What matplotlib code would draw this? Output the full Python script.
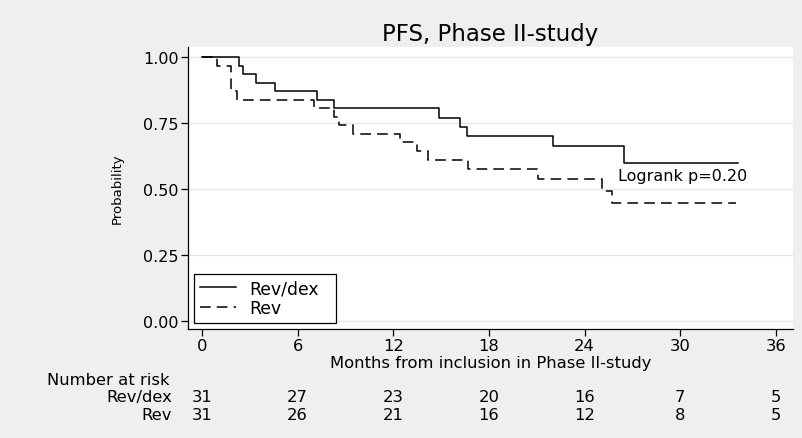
import matplotlib.pyplot as plt
import matplotlib.transforms as mtransforms

# Kaplan-Meier step data
revdex_t = [0, 2.3, 2.6, 3.4, 4.6, 7.2, 8.3, 14.9, 16.2, 16.6, 22.0, 26.5, 33.6]
revdex_s = [1.0, 0.968, 0.935, 0.903, 0.871, 0.839, 0.806, 0.769, 0.735, 0.700, 0.665, 0.598, 0.598]

rev_t = [0, 0.95, 1.8, 2.2, 7.0, 8.3, 8.6, 9.5, 12.4, 13.5, 14.2, 16.7, 21.1, 25.1, 25.7, 33.5]
rev_s = [1.0, 0.968, 0.871, 0.839, 0.806, 0.774, 0.742, 0.710, 0.677, 0.645, 0.609, 0.575,
         0.538, 0.494, 0.449, 0.449]

risk_times = [0, 6, 12, 18, 24, 30, 36]
risk_revdex = [31, 27, 23, 20, 16, 7, 5]
risk_rev = [31, 26, 21, 16, 12, 8, 5]

yticks = [0.0, 0.25, 0.5, 0.75, 1.0]
bg = '#efefef'
fs = 11.8

plt.rcParams['font.family'] = 'DejaVu Sans'

fig = plt.figure(figsize=(8.03, 4.39), dpi=100, facecolor=bg)
ax = fig.add_axes([188 / 803, 1 - 330 / 439, 605 / 803, 282 / 439])
ax.set_facecolor('white')

for y in yticks:
    ax.axhline(y, color='#e6e6e6', lw=1.0, zorder=0)

ax.step(revdex_t, revdex_s, where='post', color='black', lw=1.1, label='Rev/dex')
ax.step(rev_t, rev_s, where='post', color='black', lw=1.1, dashes=(7, 4), label='Rev')

ax.set_xlim(-0.88, 37.08)
ax.set_ylim(-0.030, 1.039)
ax.set_xticks(risk_times)
ax.set_yticks(yticks)
ax.set_yticklabels(['%.2f' % v for v in yticks], fontsize=11.5)
ax.set_xticklabels([str(v) for v in risk_times], fontsize=fs)
ax.tick_params(direction='out', length=5, width=0.9, pad=1.5)

for s in ['top', 'right']:
    ax.spines[s].set_visible(False)
for s in ['left', 'bottom']:
    ax.spines[s].set_linewidth(0.9)

ax.set_ylabel('Probability', fontsize=9.5, labelpad=14)
ax.set_xlabel('Months from inclusion in Phase II-study', fontsize=fs, labelpad=1.5)

ax.text(26.1, 0.55, 'Logrank p=0.20', fontsize=11.5, va='center')

leg = ax.legend(loc='lower left', bbox_to_anchor=(6 / 605, 6 / 282, 142 / 605, 0.1),
                mode='expand', borderaxespad=0, prop={'size': 12.4},
                fancybox=False, edgecolor='black', framealpha=1.0,
                handlelength=2.1, handletextpad=0.8, labelspacing=0.12, borderpad=0.32)
leg.get_frame().set_linewidth(0.9)

fig.text(490 / 803, 1 - 35 / 439, 'PFS, Phase II-study', fontsize=16.5,
         ha='center', va='center')

# number at risk table
trans = mtransforms.blended_transform_factory(ax.transData, fig.transFigure)
fig.text(47 / 803, 1 - 381 / 439, 'Number at risk', fontsize=fs, va='center')
rows = [('Rev/dex', risk_revdex, 398), ('Rev', risk_rev, 416)]
for name, vals, ypx in rows:
    yf = 1 - ypx / 439
    fig.text(172 / 803, yf, name, fontsize=fs, ha='right', va='center')
    for t, n in zip(risk_times, vals):
        ax.text(t, yf, str(n), transform=trans, fontsize=fs,
                ha='center', va='center', clip_on=False)

fig.savefig('out.png', dpi=100, facecolor=bg)
